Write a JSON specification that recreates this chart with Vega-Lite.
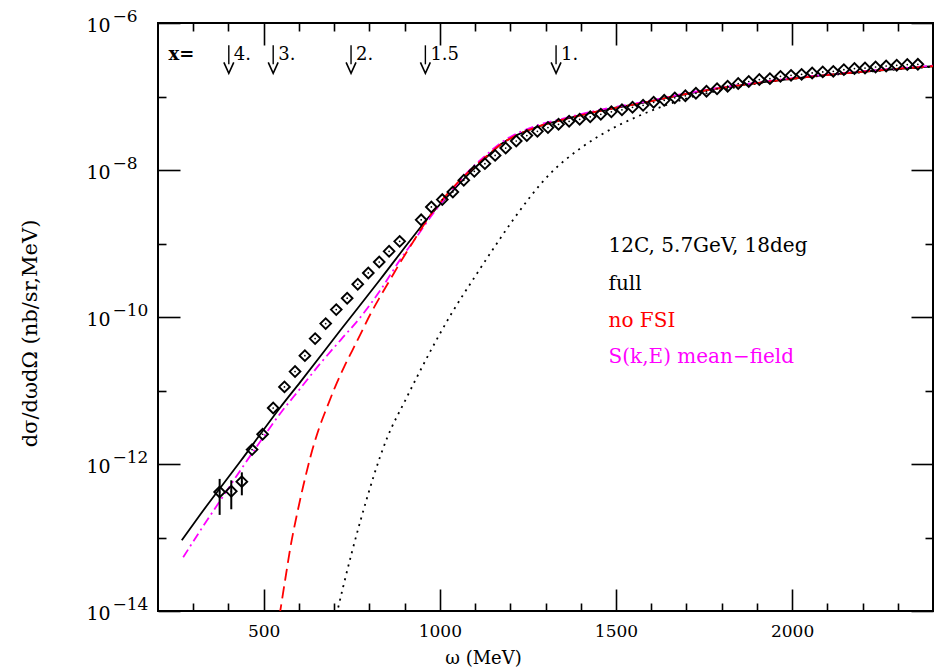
{
  "$schema": "https://vega.github.io/schema/vega-lite/v6.json",
  "width": 775,
  "height": 588,
  "autosize": {"type": "none"},
  "padding": {"left": 158, "top": 23, "right": 5, "bottom": 59},
  "background": "white",
  "config": {
    "view": {"stroke": "black", "strokeWidth": 2},
    "axis": {"domain": false, "grid": false, "tickColor": "black", "tickWidth": 1.6, "labelColor": "black", "labelFont": "DejaVu Serif", "labelFontSize": 17, "titleFont": "DejaVu Serif", "titleFontSize": 18, "titleFontWeight": "normal", "titleColor": "black", "labelOverlap": false, "labelFlush": false},
    "text": {"font": "DejaVu Serif"}
  },
  "resolve": {"axis": {"x": "independent", "y": "independent"}},
  "datasets": {
    "dotted": [
      {"w": 707, "s": 9e-15}, {"w": 726, "s": 2.17e-14}, {"w": 775, "s": 1.71e-13}, {"w": 850, "s": 2.24e-12},
      {"w": 902, "s": 7.36e-12}, {"w": 1030, "s": 1.05e-10}, {"w": 1106, "s": 3.94e-10}, {"w": 1172, "s": 1.18e-9},
      {"w": 1209, "s": 2.13e-9}, {"w": 1314, "s": 9.0e-9}, {"w": 1399, "s": 1.97e-8}, {"w": 1455, "s": 2.96e-8},
      {"w": 1569, "s": 5.55e-8}, {"w": 1702, "s": 9.46e-8}, {"w": 1824, "s": 1.29e-7}, {"w": 1966, "s": 1.66e-7},
      {"w": 2165, "s": 2.07e-7}, {"w": 2400, "s": 2.54e-7}
    ],
    "full": [
      {"w": 267.5, "s": 9.16e-14}, {"w": 320.6, "s": 2.07e-13}, {"w": 434, "s": 1.089e-12}, {"w": 547.5, "s": 5.92e-12},
      {"w": 604.3, "s": 1.312e-11}, {"w": 717.7, "s": 6.59e-11}, {"w": 831.2, "s": 3.26e-10}, {"w": 916.3, "s": 1.107e-9},
      {"w": 973, "s": 2.42e-9}, {"w": 1038.3, "s": 5.3e-9}, {"w": 1086.5, "s": 9.31e-9}, {"w": 1129, "s": 1.44e-8},
      {"w": 1171.6, "s": 2.2e-8}, {"w": 1265.2, "s": 3.69e-8}, {"w": 1341.8, "s": 4.74e-8}, {"w": 1455.3, "s": 6.38e-8},
      {"w": 1568.8, "s": 8.07e-8}, {"w": 1739, "s": 1.178e-7}, {"w": 1852.5, "s": 1.419e-7}, {"w": 2022.7, "s": 1.795e-7},
      {"w": 2164.5, "s": 2.1e-7}, {"w": 2400, "s": 2.58e-7}
    ],
    "nofsi": [
      {"w": 544.7, "s": 8.5e-15}, {"w": 561.7, "s": 2.79e-14}, {"w": 575.9, "s": 7.36e-14}, {"w": 594.9, "s": 2.11e-13},
      {"w": 612.8, "s": 5.13e-13}, {"w": 632.6, "s": 1.245e-12}, {"w": 655.3, "s": 2.88e-12}, {"w": 680, "s": 5.97e-12},
      {"w": 703.5, "s": 1.14e-11}, {"w": 729.1, "s": 2.13e-11}, {"w": 751.8, "s": 3.52e-11}, {"w": 774.5, "s": 5.82e-11},
      {"w": 802.8, "s": 1.089e-10}, {"w": 831.2, "s": 1.91e-10}, {"w": 859.6, "s": 3.26e-10}, {"w": 887.9, "s": 5.55e-10},
      {"w": 916.3, "s": 9.16e-10}, {"w": 944.7, "s": 1.51e-9}, {"w": 973, "s": 2.42e-9}, {"w": 1001.4, "s": 3.64e-9},
      {"w": 1038.3, "s": 5.82e-9}, {"w": 1086.5, "s": 9.91e-9}, {"w": 1129, "s": 1.49e-8}, {"w": 1171.6, "s": 2.2e-8},
      {"w": 1265.2, "s": 3.69e-8}, {"w": 1341.8, "s": 4.74e-8}, {"w": 1455.3, "s": 6.38e-8}, {"w": 1568.8, "s": 8.07e-8},
      {"w": 1739, "s": 1.178e-7}, {"w": 1852.5, "s": 1.419e-7}, {"w": 2022.7, "s": 1.795e-7}, {"w": 2164.5, "s": 2.1e-7},
      {"w": 2400, "s": 2.58e-7}
    ],
    "meanfield": [
      {"w": 271.5, "s": 5.38e-14}, {"w": 320.6, "s": 1.256e-13}, {"w": 377.3, "s": 3.21e-13}, {"w": 434, "s": 8.22e-13},
      {"w": 490.8, "s": 2.04e-12}, {"w": 547.5, "s": 4.9e-12}, {"w": 604.3, "s": 1.07e-11}, {"w": 661, "s": 2.34e-11},
      {"w": 717.7, "s": 4.82e-11}, {"w": 774.5, "s": 9.91e-11}, {"w": 831.2, "s": 2.31e-10}, {"w": 887.9, "s": 6.08e-10},
      {"w": 924.8, "s": 1.069e-9}, {"w": 981.6, "s": 2.58e-9}, {"w": 1038.3, "s": 5.64e-9}, {"w": 1086.5, "s": 1.023e-8},
      {"w": 1129, "s": 1.56e-8}, {"w": 1171.6, "s": 2.31e-8}, {"w": 1265.2, "s": 3.87e-8}, {"w": 1341.8, "s": 4.9e-8},
      {"w": 1455.3, "s": 6.59e-8}, {"w": 1568.8, "s": 8.26e-8}, {"w": 1739, "s": 1.197e-7}, {"w": 1852.5, "s": 1.442e-7},
      {"w": 2022.7, "s": 1.82e-7}, {"w": 2164.5, "s": 2.13e-7}, {"w": 2400, "s": 2.62e-7}
    ],
    "data": [
      {"w": 375, "s": 4.16e-13}, {"w": 408, "s": 4.25e-13}, {"w": 438, "s": 5.75e-13}, {"w": 467, "s": 1.57e-12},
      {"w": 497, "s": 2.54e-12}, {"w": 527, "s": 5.78e-12}, {"w": 559, "s": 1.12e-11}, {"w": 589, "s": 1.81e-11},
      {"w": 617, "s": 2.98e-11}, {"w": 646, "s": 5.08e-11}, {"w": 676, "s": 8.13e-11}, {"w": 706, "s": 1.26e-10},
      {"w": 737, "s": 1.8e-10}, {"w": 767, "s": 2.79e-10}, {"w": 797, "s": 3.97e-10}, {"w": 828, "s": 5.6e-10},
      {"w": 856, "s": 7.83e-10}, {"w": 886, "s": 1.07e-9}, {"w": 947, "s": 2.1e-9}, {"w": 976, "s": 3.14e-9},
      {"w": 1007, "s": 3.96e-9}, {"w": 1037, "s": 5.02e-9}, {"w": 1068, "s": 7.24e-9}, {"w": 1098, "s": 9.6e-9},
      {"w": 1128, "s": 1.22e-8}, {"w": 1157, "s": 1.58e-8}, {"w": 1187, "s": 1.99e-8}, {"w": 1217, "s": 2.48e-8},
      {"w": 1247, "s": 2.94e-8}, {"w": 1277, "s": 3.36e-8}, {"w": 1307, "s": 3.78e-8}, {"w": 1337, "s": 4.19e-8},
      {"w": 1367, "s": 4.6e-8}, {"w": 1397, "s": 4.9e-8}, {"w": 1427, "s": 5.3e-8}, {"w": 1457, "s": 5.73e-8},
      {"w": 1487, "s": 6.19e-8}, {"w": 1517, "s": 6.59e-8}, {"w": 1547, "s": 7.13e-8}, {"w": 1577, "s": 7.59e-8},
      {"w": 1607, "s": 8.34e-8}, {"w": 1637, "s": 8.87e-8}, {"w": 1667, "s": 9.59e-8}, {"w": 1697, "s": 1.022e-7},
      {"w": 1727, "s": 1.106e-7}, {"w": 1757, "s": 1.178e-7}, {"w": 1787, "s": 1.274e-7}, {"w": 1817, "s": 1.38e-7},
      {"w": 1847, "s": 1.5e-7}, {"w": 1877, "s": 1.6e-7}, {"w": 1907, "s": 1.7e-7}, {"w": 1937, "s": 1.75e-7},
      {"w": 1967, "s": 1.88e-7}, {"w": 1997, "s": 1.94e-7}, {"w": 2027, "s": 2.0e-7}, {"w": 2057, "s": 2.09e-7},
      {"w": 2087, "s": 2.16e-7}, {"w": 2117, "s": 2.2e-7}, {"w": 2147, "s": 2.32e-7}, {"w": 2177, "s": 2.4e-7},
      {"w": 2207, "s": 2.44e-7}, {"w": 2237, "s": 2.52e-7}, {"w": 2267, "s": 2.6e-7}, {"w": 2297, "s": 2.66e-7},
      {"w": 2327, "s": 2.72e-7}, {"w": 2357, "s": 2.74e-7}
    ],
    "errors": [
      {"w": 375, "lo": 2.03e-13, "hi": 6.27e-13},
      {"w": 408, "lo": 2.42e-13, "hi": 6.0e-13},
      {"w": 438, "lo": 3.75e-13, "hi": 7.7e-13}
    ],
    "arrows": [
      {"w": 401, "top": 4.97e-7, "bot": 2.74e-7, "head": 2.457e-7, "txt": 3.18e-7, "label": "4."},
      {"w": 527, "top": 4.97e-7, "bot": 2.74e-7, "head": 2.457e-7, "txt": 3.18e-7, "label": "3."},
      {"w": 748, "top": 4.97e-7, "bot": 2.74e-7, "head": 2.457e-7, "txt": 3.18e-7, "label": "2."},
      {"w": 959, "top": 4.97e-7, "bot": 2.74e-7, "head": 2.457e-7, "txt": 3.18e-7, "label": "1.5"},
      {"w": 1330, "top": 4.97e-7, "bot": 2.74e-7, "head": 2.457e-7, "txt": 3.18e-7, "label": "1."}
    ],
    "xlabel": [{"w": 230, "s": 3.18e-7, "label": "x="}],
    "legend": [
      {"w": 1479, "s": 7.66e-10, "label": "12C, 5.7GeV, 18deg", "series": "info"},
      {"w": 1479, "s": 2.32e-10, "label": "full", "series": "full"},
      {"w": 1479, "s": 7.4e-11, "label": "no FSI", "series": "nofsi"},
      {"w": 1479, "s": 2.37e-11, "label": "S(k,E) mean−field", "series": "mf"}
    ]
  },
  "layer": [
    {
      "data": {"name": "dotted"},
      "mark": {"type": "line", "color": "black", "strokeDash": [2, 5], "strokeWidth": 1.8, "interpolate": "monotone", "clip": true},
      "encoding": {
        "x": {"field": "w", "type": "quantitative", "scale": {"domain": [200, 2400], "nice": false, "zero": false},
          "axis": {"orient": "bottom", "values": [500, 1000, 1500, 2000], "format": "d", "ticks": false, "tickSize": 0, "labelPadding": 12, "labelFontSize": 17, "title": "ω (MeV)", "titleX": 325, "titleY": 47, "titleBaseline": "middle", "titleFontSize": 18}},
        "y": {"field": "s", "type": "quantitative", "scale": {"type": "log", "domain": [1e-14, 1e-6], "nice": false},
          "axis": {"orient": "left", "values": [1e-14, 1e-12, 1e-10, 1e-8, 1e-6], "ticks": false, "tickSize": 0, "labelExpr": "'10'", "labelAlign": "left", "labelBaseline": "middle", "labelPadding": 72, "labelFontSize": 19, "labelOffset": 2, "title": "dσ/dωdΩ (nb/sr,MeV)", "titleX": -128, "titleY": 310, "titleAngle": -90, "titleBaseline": "middle", "titleAlign": "center", "titleFontSize": 21}}
      }
    },
    {
      "data": {"name": "full"},
      "mark": {"type": "line", "color": "black", "strokeWidth": 1.8, "interpolate": "monotone", "clip": true},
      "encoding": {
        "x": {"field": "w", "type": "quantitative", "scale": {"domain": [200, 2400], "nice": false, "zero": false},
          "axis": {"orient": "bottom", "values": [500, 1000, 1500, 2000], "offset": -22, "tickSize": 22, "labels": false, "title": null}},
        "y": {"field": "s", "type": "quantitative", "scale": {"type": "log", "domain": [1e-14, 1e-6], "nice": false},
          "axis": {"orient": "left", "values": [1e-14, 1e-12, 1e-10, 1e-8, 1e-6], "ticks": false, "tickSize": 0, "labelExpr": "datum.value > 5e-7 ? '−6' : datum.value > 5e-9 ? '−8' : datum.value > 5e-11 ? '−10' : datum.value > 5e-13 ? '−12' : '−14'", "labelAlign": "left", "labelBaseline": "middle", "labelPadding": 46, "labelFontSize": 17, "labelOffset": -7, "title": null}}
      }
    },
    {
      "data": {"name": "meanfield"},
      "mark": {"type": "line", "color": "#ff00ff", "strokeDash": [9, 4, 2, 4], "strokeWidth": 1.8, "interpolate": "monotone", "clip": true},
      "encoding": {
        "x": {"field": "w", "type": "quantitative", "scale": {"domain": [200, 2400], "nice": false, "zero": false},
          "axis": {"orient": "bottom", "values": [300, 400, 600, 700, 800, 900, 1100, 1200, 1300, 1400, 1600, 1700, 1800, 1900, 2100, 2200, 2300], "offset": -8, "tickSize": 8, "labels": false, "title": null}},
        "y": {"field": "s", "type": "quantitative", "scale": {"type": "log", "domain": [1e-14, 1e-6], "nice": false},
          "axis": {"orient": "left", "values": [1e-14, 1e-12, 1e-10, 1e-8, 1e-6], "offset": -22, "tickSize": 22, "labels": false, "title": null}}
      }
    },
    {
      "data": {"name": "nofsi"},
      "mark": {"type": "line", "color": "#ff0000", "strokeDash": [12, 6], "strokeWidth": 1.8, "interpolate": "monotone", "clip": true},
      "encoding": {
        "x": {"field": "w", "type": "quantitative", "scale": {"domain": [200, 2400], "nice": false, "zero": false},
          "axis": {"orient": "top", "values": [500, 1000, 1500, 2000], "offset": -22, "tickSize": 22, "labels": false, "title": null}},
        "y": {"field": "s", "type": "quantitative", "scale": {"type": "log", "domain": [1e-14, 1e-6], "nice": false},
          "axis": {"orient": "left", "values": [1e-13, 1e-11, 1e-9, 1e-7], "offset": -8, "tickSize": 8, "labels": false, "title": null}}
      }
    },
    {
      "data": {"name": "errors"},
      "mark": {"type": "rule", "color": "black", "strokeWidth": 2},
      "encoding": {
        "x": {"field": "w", "type": "quantitative", "scale": {"domain": [200, 2400], "nice": false, "zero": false},
          "axis": {"orient": "top", "values": [300, 400, 600, 700, 800, 900, 1100, 1200, 1300, 1400, 1600, 1700, 1800, 1900, 2100, 2200, 2300], "offset": -8, "tickSize": 8, "labels": false, "title": null}},
        "y": {"field": "lo", "type": "quantitative", "scale": {"type": "log", "domain": [1e-14, 1e-6], "nice": false},
          "axis": {"orient": "right", "values": [1e-14, 1e-12, 1e-10, 1e-8, 1e-6], "offset": -22, "tickSize": 22, "labels": false, "title": null}},
        "y2": {"field": "hi"}
      }
    },
    {
      "data": {"name": "data"},
      "mark": {"type": "point", "shape": "diamond", "filled": false, "color": "black", "strokeWidth": 1.9, "size": 115, "opacity": 1},
      "encoding": {
        "x": {"field": "w", "type": "quantitative", "scale": {"domain": [200, 2400], "nice": false, "zero": false}, "axis": null},
        "y": {"field": "s", "type": "quantitative", "scale": {"type": "log", "domain": [1e-14, 1e-6], "nice": false},
          "axis": {"orient": "right", "values": [1e-13, 1e-11, 1e-9, 1e-7], "offset": -8, "tickSize": 8, "labels": false, "title": null}}
      }
    },
    {
      "data": {"name": "data"},
      "mark": {"type": "point", "shape": "circle", "filled": true, "color": "black", "size": 3, "opacity": 1},
      "encoding": {
        "x": {"field": "w", "type": "quantitative", "scale": {"domain": [200, 2400], "nice": false, "zero": false}, "axis": null},
        "y": {"field": "s", "type": "quantitative", "scale": {"type": "log", "domain": [1e-14, 1e-6], "nice": false}, "axis": null}
      }
    },
    {
      "data": {"name": "arrows"},
      "mark": {"type": "rule", "color": "black", "strokeWidth": 1.4},
      "encoding": {
        "x": {"field": "w", "type": "quantitative", "scale": {"domain": [200, 2400], "nice": false, "zero": false}, "axis": null},
        "y": {"field": "top", "type": "quantitative", "scale": {"type": "log", "domain": [1e-14, 1e-6], "nice": false}, "axis": null},
        "y2": {"field": "bot"}
      }
    },
    {
      "data": {"name": "arrows"},
      "mark": {"type": "point", "shape": "M-0.9,-1L0,1L0.9,-1", "filled": false, "color": "black", "strokeWidth": 1.6, "size": 121, "opacity": 1},
      "encoding": {
        "x": {"field": "w", "type": "quantitative", "scale": {"domain": [200, 2400], "nice": false, "zero": false}, "axis": null},
        "y": {"field": "head", "type": "quantitative", "scale": {"type": "log", "domain": [1e-14, 1e-6], "nice": false}, "axis": null}
      }
    },
    {
      "data": {"name": "arrows"},
      "mark": {"type": "text", "align": "left", "baseline": "alphabetic", "dx": 5, "fontSize": 18, "color": "black"},
      "encoding": {
        "x": {"field": "w", "type": "quantitative", "scale": {"domain": [200, 2400], "nice": false, "zero": false}, "axis": null},
        "y": {"field": "txt", "type": "quantitative", "scale": {"type": "log", "domain": [1e-14, 1e-6], "nice": false}, "axis": null},
        "text": {"field": "label"}
      }
    },
    {
      "data": {"name": "xlabel"},
      "mark": {"type": "text", "align": "left", "baseline": "alphabetic", "fontSize": 18, "fontWeight": "bold", "color": "black"},
      "encoding": {
        "x": {"field": "w", "type": "quantitative", "scale": {"domain": [200, 2400], "nice": false, "zero": false}, "axis": null},
        "y": {"field": "s", "type": "quantitative", "scale": {"type": "log", "domain": [1e-14, 1e-6], "nice": false}, "axis": null},
        "text": {"field": "label"}
      }
    },
    {
      "data": {"name": "legend"},
      "mark": {"type": "text", "align": "left", "baseline": "alphabetic", "fontSize": 20},
      "encoding": {
        "x": {"field": "w", "type": "quantitative", "scale": {"domain": [200, 2400], "nice": false, "zero": false}, "axis": null},
        "y": {"field": "s", "type": "quantitative", "scale": {"type": "log", "domain": [1e-14, 1e-6], "nice": false}, "axis": null},
        "text": {"field": "label"},
        "color": {"field": "series", "type": "nominal", "scale": {"domain": ["info", "full", "nofsi", "mf"], "range": ["black", "black", "#ff0000", "#ff00ff"]}, "legend": null}
      }
    }
  ]
}
